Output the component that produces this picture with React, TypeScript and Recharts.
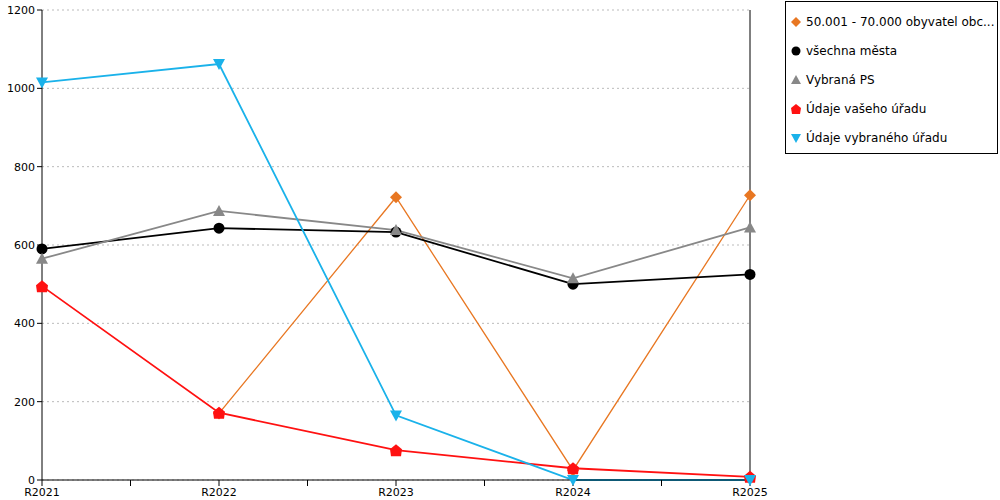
import { LineChart, Line, XAxis, YAxis, CartesianGrid, ReferenceLine } from 'recharts';

const categories = ['R2021', 'R2022', 'R2023', 'R2024', 'R2025'];
const orange = [null, 170, 722, 25, 727];
const black = [590, 643, 633, 500, 525];
const gray = [565, 687, 638, 515, 645];
const red = [495, 172, 76, 30, 8];
const blue = [1015, 1062, 165, 0, 0];
const yTicks = [0, 200, 400, 600, 800, 1000, 1200];
const xTicks = [0, 0.5, 1, 1.5, 2, 2.5, 3, 3.5, 4];

const data = categories.map((c, i) => ({
  x: i, name: c, orange: orange[i], black: black[i], gray: gray[i], red: red[i], blue: blue[i],
}));

const FONT = '"DejaVu Sans", Verdana, sans-serif';

type Kind = 'diamond' | 'circle' | 'triangle' | 'house' | 'down';

function marker(kind: Kind, color: string, cx: number, cy: number, s = 6, key?: any) {
  if (cx == null || cy == null) return <g key={key} />;
  if (kind === 'circle') return <circle key={key} cx={cx} cy={cy} r={s - 0.5} fill={color} />;
  let pts = '';
  if (kind === 'diamond') pts = `${cx},${cy - s} ${cx + s},${cy} ${cx},${cy + s} ${cx - s},${cy}`;
  if (kind === 'triangle') pts = `${cx},${cy - s} ${cx + s},${cy + s - 1} ${cx - s},${cy + s - 1}`;
  if (kind === 'down') pts = `${cx - s},${cy - s + 1} ${cx + s},${cy - s + 1} ${cx},${cy + s}`;
  if (kind === 'house') pts = `${cx},${cy - s} ${cx + s},${cy - 1} ${cx + s - 1},${cy + s} ${cx - s + 1},${cy + s} ${cx - s},${cy - 1}`;
  return <polygon key={key} points={pts} fill={color} />;
}

const series: { key: string; label: string; color: string; kind: Kind; width: number }[] = [
  { key: 'orange', label: '50.001 - 70.000 obyvatel obc...', color: '#e87722', kind: 'diamond', width: 1.3 },
  { key: 'black', label: 'všechna města', color: '#000000', kind: 'circle', width: 1.8 },
  { key: 'gray', label: 'Vybraná PS', color: '#888888', kind: 'triangle', width: 1.8 },
  { key: 'red', label: 'Údaje vašeho úřadu', color: '#ff1111', kind: 'house', width: 1.8 },
  { key: 'blue', label: 'Údaje vybraného úřadu', color: '#1ab2ea', kind: 'down', width: 1.8 },
];

export default function App() {
  return (
    <div style={{ position: 'fixed', left: 0, top: 0, width: 1000, height: 500, background: '#fff', fontFamily: FONT }}>
      <LineChart width={1000} height={500} data={data} margin={{ top: 10, right: 250, left: 0, bottom: 0 }}>
        <CartesianGrid vertical={false} stroke="#bbbbbb" strokeDasharray="2 3" />
        <XAxis dataKey="x" type="number" domain={[0, 4]} ticks={xTicks} interval={0}
          tickFormatter={(v: number) => (Number.isInteger(v) ? categories[v] : '')}
          tick={{ fontSize: 11, fill: '#000', fontFamily: FONT }} stroke="#000" tickSize={6} height={20} />
        <YAxis domain={[0, 1200]} ticks={yTicks} width={42}
          tick={{ fontSize: 11, fill: '#000', fontFamily: FONT }} stroke="#000" tickSize={5} />
        <ReferenceLine x={4} stroke="#000" />
        {series.map((s) => (
          <Line key={s.key} dataKey={s.key} stroke={s.color} strokeWidth={s.width} isAnimationActive={false}
            connectNulls={false}
            dot={(p: any) => marker(s.kind, s.color, p.cx, p.cy, 6, p.key ?? p.index)} activeDot={false} />
        ))}
      </LineChart>
      <div style={{ position: 'absolute', left: 785, top: 1, width: 213, height: 153, border: '1px solid #000', boxSizing: 'border-box', fontSize: 12 }}>
        {series.map((s, i) => (
          <div key={s.key} style={{ position: 'absolute', left: 3, top: 13 + i * 29, display: 'flex', alignItems: 'center', whiteSpace: 'nowrap' }}>
            <svg width={14} height={14}>{marker(s.kind, s.color, 7, 7, 5)}</svg>
            <span style={{ marginLeft: 3 }}>{s.label}</span>
          </div>
        ))}
      </div>
    </div>
  );
}
